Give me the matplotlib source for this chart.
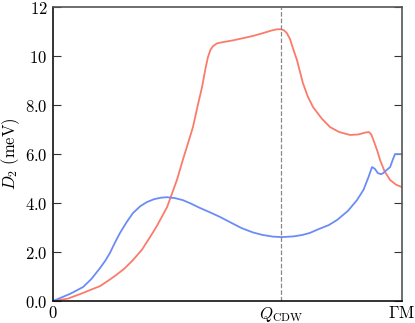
import matplotlib
matplotlib.use("Agg")
import matplotlib.pyplot as plt

plt.rcParams["mathtext.fontset"] = "cm"
plt.rcParams["font.family"] = "serif"

# path coordinate (0 -> Gamma M) and D_2 values in meV
q_red = [0.0, 0.043, 0.086, 0.11, 0.135, 0.16, 0.18, 0.205, 0.229, 0.255, 0.278,
         0.295, 0.307, 0.327, 0.34, 0.355, 0.372, 0.387, 0.401, 0.415, 0.427, 0.437,
         0.444, 0.451, 0.458, 0.470, 0.487, 0.515, 0.544, 0.575, 0.602, 0.625, 0.640,
         0.652, 0.662, 0.670, 0.679, 0.688, 0.699, 0.716, 0.73, 0.745, 0.77, 0.794,
         0.82, 0.851, 0.875, 0.895, 0.905, 0.912, 0.920, 0.93, 0.937, 0.95, 0.966,
         0.983, 1.0]
d_red = [0.0, 0.1, 0.33, 0.47, 0.61, 0.85, 1.05, 1.33, 1.67, 2.1, 2.61,
         3.0, 3.31, 3.84, 4.35, 4.94, 5.76, 6.45, 7.10, 8.0, 8.73, 9.5,
         9.96, 10.25, 10.4, 10.52, 10.57, 10.64, 10.73, 10.83, 10.94, 11.04, 11.09,
         11.10, 11.05, 10.94, 10.7, 10.3, 9.84, 8.90, 8.35, 7.92, 7.45, 7.10,
         6.9, 6.78, 6.8, 6.88, 6.9, 6.8, 6.5, 6.1, 5.76, 5.3, 4.94,
         4.75, 4.65]

q_blue = [0.0, 0.02, 0.05, 0.086, 0.11, 0.135, 0.15, 0.163, 0.178, 0.192, 0.21,
          0.229, 0.25, 0.269, 0.29, 0.31, 0.327, 0.35, 0.372, 0.395, 0.421, 0.45,
          0.479, 0.51, 0.54, 0.573, 0.60, 0.63, 0.656, 0.69, 0.715, 0.736, 0.76,
          0.79, 0.814, 0.845, 0.871, 0.89, 0.905, 0.914, 0.922, 0.931, 0.94, 0.946,
          0.956, 0.966, 0.973, 0.980, 0.99, 1.0]
d_blue = [0.0, 0.12, 0.3, 0.57, 0.9, 1.35, 1.65, 1.96, 2.4, 2.78, 3.2,
          3.59, 3.87, 4.04, 4.16, 4.22, 4.24, 4.2, 4.12, 3.98, 3.80, 3.62,
          3.43, 3.2, 2.98, 2.80, 2.70, 2.63, 2.61, 2.64, 2.70, 2.78, 2.93,
          3.10, 3.31, 3.68, 4.12, 4.55, 5.1, 5.47, 5.4, 5.22, 5.18, 5.22,
          5.35, 5.47, 5.75, 6.00, 6.0, 6.0]

q_cdw = 0.654
tick_pos = [0, q_cdw, 1]
tick_lab = [r"$0$", r"$Q_\mathrm{CDW}$", r"$\Gamma\mathrm{M}$"]
y_ticks = [0, 2, 4, 6, 8, 10, 12]
y_labs = [r"$0.0$", r"$2.0$", r"$4.0$", r"$6.0$", r"$8.0$", r"$10$", r"$12$"]

fig = plt.figure(figsize=(4.15, 3.23), dpi=100)
ax = fig.add_axes([0.1277, 0.068, 0.841, 0.910])

ax.plot(q_red, d_red, color="#fb7b6b", lw=1.3)
ax.plot(q_blue, d_blue, color="#6b8cf7", lw=1.3)
ax.axvline(q_cdw, color="#888888", ls="--", lw=0.9)

ax.set_xlim(0, 1)
ax.set_ylim(0, 12)
ax.set_xticks(tick_pos)
ax.set_xticklabels(tick_lab, fontsize=12)
ax.set_yticks(y_ticks)
ax.set_yticklabels(y_labs, fontsize=12)
ax.tick_params(axis="y", direction="in", right=True, length=6, color="#333333", pad=4)
ax.tick_params(axis="x", length=0, pad=3)
ax.set_ylabel(r"$D_2\ (\mathrm{meV})$", fontsize=12, labelpad=2)

for s in ["top", "right"]:
    ax.spines[s].set_color("#555555")
for s in ["left", "bottom"]:
    ax.spines[s].set_color("#111111")
for s in ax.spines.values():
    s.set_linewidth(1.2)

fig.savefig("out.png", dpi=100)
